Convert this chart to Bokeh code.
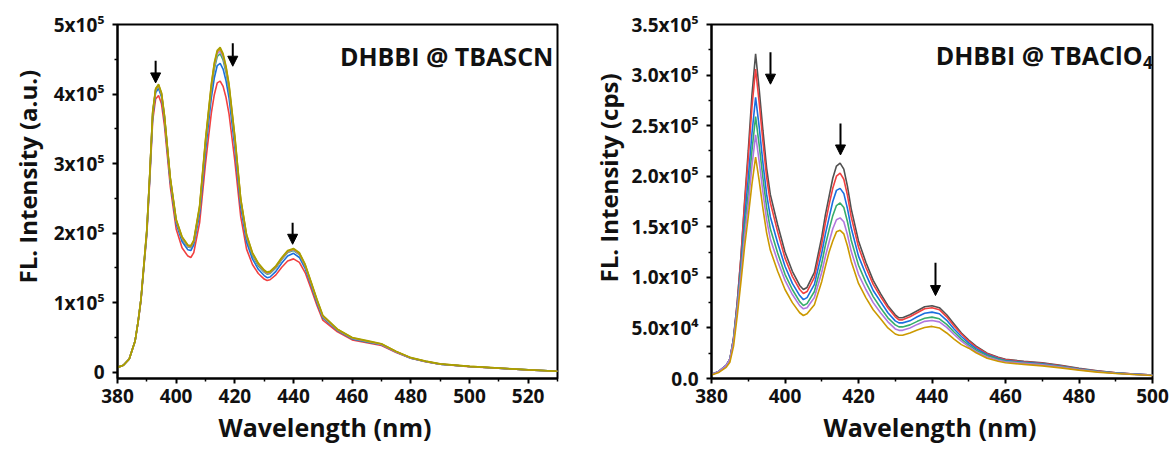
from bokeh.plotting import figure
from bokeh.models import FixedTicker, Label, Arrow, NormalHead, Range1d, Title
from bokeh.layouts import row
from bokeh.embed import file_html
from bokeh.resources import INLINE

FONT = "Open Sans"

# ---------------- Left panel: DHBBI @ TBASCN ----------------
wl_left = [380, 382, 384, 386, 387, 388, 389, 390, 391, 392,
           393, 394, 395, 396, 397, 398, 400, 402, 404, 405,
           406, 408, 410, 411, 412, 413, 414, 415, 416, 417,
           418, 420, 422, 424, 426, 428, 430, 431, 432, 434,
           436, 438, 440, 442, 444, 446, 448, 450, 455, 460,
           465, 470, 475, 480, 485, 490, 500, 510, 520, 530]

scn_red = [0.07, 0.10, 0.19, 0.45, 0.71, 1.03, 1.51, 1.98, 2.76, 3.62,
           3.93, 3.98, 3.86, 3.55, 3.11, 2.67, 2.06, 1.79, 1.67, 1.65,
           1.72, 2.15, 3.00, 3.37, 3.73, 3.99, 4.16, 4.185, 4.11, 3.95,
           3.72, 3.04, 2.24, 1.77, 1.55, 1.42, 1.34, 1.32, 1.33, 1.40,
           1.51, 1.60, 1.63, 1.58, 1.43, 1.20, 0.96, 0.75, 0.58, 0.465,
           0.425, 0.385, 0.285, 0.20, 0.152, 0.114, 0.081, 0.057, 0.033, 0.015]
scn_blue = [0.07, 0.10, 0.19, 0.45, 0.72, 1.04, 1.53, 2.01, 2.80, 3.68,
            4.02, 4.08, 3.96, 3.64, 3.19, 2.74, 2.14, 1.88, 1.76, 1.75,
            1.83, 2.28, 3.18, 3.57, 3.95, 4.23, 4.41, 4.44, 4.36, 4.19,
            3.95, 3.23, 2.38, 1.87, 1.63, 1.48, 1.39, 1.36, 1.37, 1.45,
            1.57, 1.67, 1.71, 1.65, 1.49, 1.25, 1.00, 0.78, 0.60, 0.48,
            0.435, 0.395, 0.29, 0.202, 0.154, 0.115, 0.082, 0.058, 0.034, 0.015]
scn_green = [0.07, 0.10, 0.19, 0.45, 0.72, 1.05, 1.54, 2.03, 2.83, 3.72,
             4.05, 4.11, 3.99, 3.67, 3.22, 2.77, 2.17, 1.92, 1.80, 1.79,
             1.87, 2.34, 3.27, 3.67, 4.06, 4.36, 4.54, 4.58, 4.49, 4.31,
             4.06, 3.32, 2.45, 1.93, 1.68, 1.53, 1.44, 1.41, 1.42, 1.50,
             1.62, 1.72, 1.75, 1.69, 1.52, 1.27, 1.02, 0.79, 0.605, 0.485,
             0.44, 0.40, 0.293, 0.204, 0.155, 0.116, 0.083, 0.058, 0.034, 0.015]
scn_purple = [0.07, 0.10, 0.19, 0.45, 0.72, 1.05, 1.55, 2.04, 2.84, 3.73,
              4.06, 4.12, 4.00, 3.68, 3.23, 2.78, 2.18, 1.93, 1.81, 1.80,
              1.88, 2.36, 3.30, 3.70, 4.10, 4.40, 4.58, 4.62, 4.53, 4.35,
              4.10, 3.35, 2.47, 1.95, 1.70, 1.55, 1.45, 1.42, 1.43, 1.51,
              1.63, 1.73, 1.76, 1.70, 1.53, 1.28, 1.03, 0.80, 0.61, 0.49,
              0.445, 0.40, 0.295, 0.205, 0.156, 0.117, 0.083, 0.058, 0.034, 0.015]
scn_gold = [0.07, 0.10, 0.19, 0.45, 0.72, 1.05, 1.55, 2.05, 2.85, 3.74,
            4.07, 4.13, 4.01, 3.69, 3.24, 2.79, 2.19, 1.94, 1.82, 1.81,
            1.89, 2.38, 3.33, 3.73, 4.13, 4.43, 4.61, 4.65, 4.56, 4.38,
            4.13, 3.38, 2.49, 1.97, 1.71, 1.56, 1.46, 1.43, 1.44, 1.52,
            1.64, 1.74, 1.77, 1.71, 1.54, 1.29, 1.04, 0.81, 0.615, 0.495,
            0.45, 0.405, 0.298, 0.208, 0.158, 0.118, 0.084, 0.059, 0.034, 0.015]
scn_olive = [0.07, 0.10, 0.19, 0.45, 0.72, 1.05, 1.55, 2.05, 2.85, 3.75,
             4.08, 4.14, 4.02, 3.70, 3.25, 2.80, 2.20, 1.95, 1.83, 1.82,
             1.90, 2.40, 3.35, 3.75, 4.15, 4.45, 4.63, 4.67, 4.58, 4.40,
             4.15, 3.40, 2.50, 1.98, 1.72, 1.57, 1.47, 1.44, 1.45, 1.53,
             1.65, 1.75, 1.78, 1.72, 1.55, 1.30, 1.05, 0.82, 0.62, 0.50,
             0.455, 0.41, 0.30, 0.21, 0.16, 0.12, 0.085, 0.06, 0.035, 0.015]

left_series = [scn_red, scn_blue, scn_green, scn_purple, scn_gold, scn_olive]
left_colors = ["#F14040", "#1A6FDF", "#37AD6B", "#B177DE", "#CC9900", "#A8A000"]
left_scale = 1e5  # values above are in units of 10^5

left_yticks = [0, 100000, 200000, 300000, 400000, 500000]
left_ylabels = ["0", "1x10\u2075", "2x10\u2075", "3x10\u2075", "4x10\u2075", "5x10\u2075"]
left_yminor = [50000, 150000, 250000, 350000, 450000]
left_xticks = [380, 400, 420, 440, 460, 480, 500, 520]
left_xminor = [390, 410, 430, 450, 470, 490, 510, 530]

# ---------------- Right panel: DHBBI @ TBAClO4 ----------------
wl_right = [380, 382, 384, 385, 386, 387, 388, 389, 390, 391,
            392, 393, 394, 395, 396, 398, 400, 402, 404, 405,
            406, 408, 410, 411, 412, 413, 414, 415, 416, 417,
            418, 420, 422, 424, 426, 428, 430, 431, 432, 434,
            436, 438, 440, 442, 444, 446, 448, 450, 452, 455,
            458, 460, 465, 470, 475, 480, 485, 490, 495, 500]

clo4_gray = [0.04, 0.07, 0.13, 0.19, 0.40, 0.75, 1.20, 1.75, 2.25, 2.80,
             3.21, 2.85, 2.45, 2.08, 1.82, 1.52, 1.25, 1.06, 0.92, 0.88,
             0.90, 1.05, 1.40, 1.62, 1.80, 1.98, 2.10, 2.13, 2.07, 1.90,
             1.68, 1.36, 1.15, 0.97, 0.84, 0.72, 0.63, 0.60, 0.60, 0.63,
             0.67, 0.71, 0.72, 0.70, 0.63, 0.54, 0.45, 0.38, 0.32, 0.25,
             0.21, 0.19, 0.17, 0.155, 0.13, 0.10, 0.075, 0.057, 0.045, 0.034]
clo4_red = [0.04, 0.07, 0.13, 0.19, 0.40, 0.75, 1.19, 1.72, 2.18, 2.68,
            3.06, 2.72, 2.34, 1.99, 1.74, 1.45, 1.19, 1.01, 0.88, 0.84,
            0.86, 1.00, 1.33, 1.54, 1.72, 1.88, 2.00, 2.03, 1.97, 1.81,
            1.60, 1.30, 1.10, 0.93, 0.81, 0.70, 0.61, 0.58, 0.58, 0.61,
            0.65, 0.69, 0.70, 0.68, 0.61, 0.52, 0.44, 0.37, 0.31, 0.245,
            0.205, 0.185, 0.165, 0.15, 0.125, 0.097, 0.073, 0.056, 0.044, 0.033]
clo4_blue = [0.04, 0.07, 0.13, 0.19, 0.39, 0.72, 1.12, 1.58, 1.98, 2.42,
             2.78, 2.48, 2.13, 1.82, 1.60, 1.34, 1.11, 0.94, 0.82, 0.78,
             0.80, 0.93, 1.24, 1.43, 1.59, 1.75, 1.86, 1.88, 1.83, 1.68,
             1.49, 1.21, 1.03, 0.87, 0.76, 0.65, 0.57, 0.55, 0.55, 0.57,
             0.61, 0.645, 0.656, 0.64, 0.575, 0.49, 0.415, 0.35, 0.295, 0.235,
             0.197, 0.178, 0.16, 0.145, 0.12, 0.094, 0.071, 0.055, 0.043, 0.033]
clo4_green = [0.04, 0.07, 0.13, 0.19, 0.38, 0.70, 1.07, 1.48, 1.83, 2.25,
              2.59, 2.30, 1.98, 1.69, 1.48, 1.24, 1.03, 0.88, 0.76, 0.722,
              0.74, 0.86, 1.14, 1.32, 1.47, 1.61, 1.71, 1.736, 1.69, 1.55,
              1.37, 1.12, 0.95, 0.81, 0.70, 0.60, 0.53, 0.51, 0.51, 0.53,
              0.565, 0.595, 0.607, 0.59, 0.535, 0.46, 0.39, 0.33, 0.28, 0.225,
              0.19, 0.172, 0.155, 0.14, 0.117, 0.091, 0.069, 0.053, 0.042, 0.032]
clo4_purple = [0.04, 0.07, 0.13, 0.19, 0.37, 0.68, 1.02, 1.40, 1.72, 2.10,
               2.41, 2.14, 1.84, 1.57, 1.38, 1.16, 0.97, 0.83, 0.72, 0.689,
               0.70, 0.80, 1.05, 1.21, 1.35, 1.48, 1.57, 1.588, 1.55, 1.42,
               1.26, 1.03, 0.88, 0.75, 0.65, 0.56, 0.49, 0.476, 0.476, 0.50,
               0.535, 0.565, 0.574, 0.56, 0.505, 0.435, 0.37, 0.315, 0.265, 0.212,
               0.18, 0.165, 0.15, 0.135, 0.113, 0.088, 0.067, 0.052, 0.041, 0.031]
clo4_gold = [0.035, 0.06, 0.11, 0.16, 0.32, 0.62, 0.95, 1.30, 1.60, 1.92,
             2.19, 1.95, 1.68, 1.44, 1.27, 1.06, 0.88, 0.75, 0.65, 0.623,
             0.64, 0.73, 0.96, 1.11, 1.25, 1.36, 1.45, 1.465, 1.43, 1.31,
             1.16, 0.94, 0.80, 0.68, 0.59, 0.50, 0.44, 0.427, 0.428, 0.45,
             0.48, 0.505, 0.515, 0.50, 0.45, 0.39, 0.335, 0.30, 0.255, 0.20,
             0.17, 0.155, 0.14, 0.125, 0.105, 0.083, 0.063, 0.05, 0.039, 0.03]

right_series = [clo4_gray, clo4_red, clo4_blue, clo4_green, clo4_purple, clo4_gold]
right_colors = ["#515151", "#F14040", "#1A6FDF", "#37AD6B", "#B177DE", "#CC9900"]
right_scale = 1e5

right_yticks = [0, 50000, 100000, 150000, 200000, 250000, 300000, 350000]
right_ylabels = ["0.0", "5.0x10\u2074", "1.0x10\u2075", "1.5x10\u2075", "2.0x10\u2075",
                 "2.5x10\u2075", "3.0x10\u2075", "3.5x10\u2075"]
right_yminor = [25000, 75000, 125000, 175000, 225000, 275000, 325000]
right_xticks = [380, 400, 420, 440, 460, 480, 500]
right_xminor = [390, 410, 430, 450, 470, 490]

X_TITLE = "Wavelength (nm)"
LEFT_Y_TITLE = "FL. Intensity (a.u.)"
RIGHT_Y_TITLE = "FL. Intensity (cps)"


def style(p):
    p.background_fill_color = "white"
    p.border_fill_color = "white"
    p.outline_line_color = "black"
    p.outline_line_width = 2
    p.outline_line_alpha = 1.0
    p.grid.visible = False
    for ax in (p.xaxis[0], p.yaxis[0]):
        ax.axis_line_width = 2
        ax.axis_line_color = "black"
        ax.major_tick_line_width = 2
        ax.minor_tick_line_width = 1.5
        ax.major_tick_out = 5
        ax.major_tick_in = 0
        ax.minor_tick_out = 3
        ax.minor_tick_in = 0
        ax.major_label_text_font = FONT
        ax.major_label_text_font_style = "bold"
        ax.major_label_text_font_size = "19px"
        ax.major_label_text_color = "#111111"
    p.xaxis.major_label_standoff = 5
    p.yaxis.major_label_standoff = 8


def side_title(p, text, side, offset, size, standoff):
    t = Title(text=text, align="left", offset=offset, standoff=standoff,
              text_font=FONT, text_font_style="bold", text_font_size=size,
              text_color="#111111")
    p.add_layout(t, side)


def add_arrow(p, x, y0, y1):
    p.add_layout(Arrow(end=NormalHead(size=10, fill_color="black", line_color="black", line_width=1),
                       x_start=x, y_start=y0, x_end=x, y_end=y1,
                       line_color="black", line_width=2))


# Left figure
p1 = figure(width=585, height=452, x_range=Range1d(380, 530), y_range=Range1d(-9000, 500000),
            output_backend="svg", toolbar_location=None,
            min_border_left=117, min_border_right=28, min_border_top=24, min_border_bottom=74)
style(p1)
p1.xaxis.ticker = FixedTicker(ticks=left_xticks, minor_ticks=left_xminor)
p1.yaxis.ticker = FixedTicker(ticks=left_yticks, minor_ticks=left_yminor)
p1.yaxis.major_label_overrides = {t: s for t, s in zip(left_yticks, left_ylabels)}
for ys, c in zip(left_series, left_colors):
    p1.line(wl_left, [v * left_scale for v in ys], line_color=c, line_width=1.6)
p1.add_layout(Label(x=528.6, y=455000, text="DHBBI @ TBASCN", text_align="right",
                    text_baseline="alphabetic", text_font=FONT, text_font_style="bold",
                    text_font_size="25px", text_color="#111111"))
side_title(p1, X_TITLE, "below", 101, "25px", 4)
side_title(p1, LEFT_Y_TITLE, "left", 95, "24px", 14)
add_arrow(p1, 393.0, 448000, 416000)
add_arrow(p1, 419.3, 473000, 440000)
add_arrow(p1, 439.7, 215000, 184000)

# Right figure
p2 = figure(width=588, height=452, x_range=Range1d(380, 500), y_range=Range1d(0, 350000),
            output_backend="svg", toolbar_location=None,
            min_border_left=126, min_border_right=21, min_border_top=23, min_border_bottom=74)
style(p2)
p2.xaxis.ticker = FixedTicker(ticks=right_xticks, minor_ticks=right_xminor)
p2.yaxis.ticker = FixedTicker(ticks=right_yticks, minor_ticks=right_yminor)
p2.yaxis.major_label_overrides = {t: s for t, s in zip(right_yticks, right_ylabels)}
for ys, c in zip(right_series, right_colors):
    p2.line(wl_right, [v * right_scale for v in ys], line_color=c, line_width=1.6)
p2.add_layout(Label(x=497.3, y=319600, text="DHBBI @ TBAClO", text_align="right",
                    text_baseline="alphabetic", text_font=FONT, text_font_style="bold",
                    text_font_size="25px", text_color="#111111"))
p2.add_layout(Label(x=497.4, y=312700, text="4", text_align="left",
                    text_baseline="alphabetic", text_font=FONT, text_font_style="bold",
                    text_font_size="17px", text_color="#111111"))
side_title(p2, X_TITLE, "below", 112, "25px", 4)
side_title(p2, RIGHT_Y_TITLE, "left", 96, "24px", 8)
add_arrow(p2, 396.05, 322500, 291000)
add_arrow(p2, 415.1, 252000, 221000)
add_arrow(p2, 440.95, 114400, 82000)

layout = row(p1, p2)
open("out.html", "w").write(file_html(layout, INLINE))
